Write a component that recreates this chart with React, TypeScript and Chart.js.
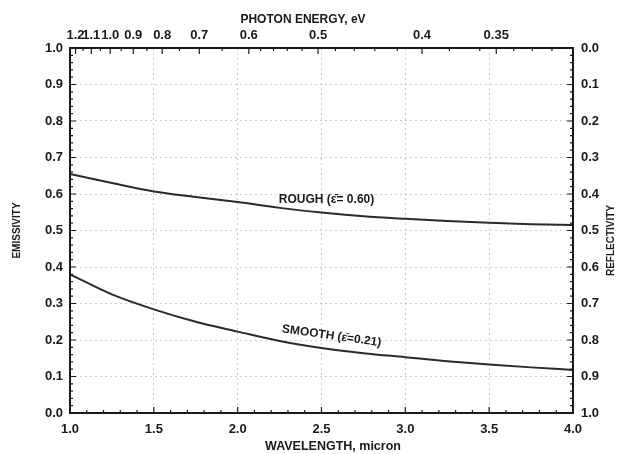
import React, { useEffect, useRef } from "react";
import Chart from "chart.js/auto";

// ---- data ----
const wavelengths = [1.0, 1.25, 1.5, 1.75, 2.0, 2.25, 2.5, 2.75, 3.0, 3.25, 3.5, 3.75, 4.0];
const roughEmissivity = [0.655, 0.630, 0.607, 0.592, 0.578, 0.562, 0.549, 0.539, 0.532, 0.526, 0.521, 0.517, 0.515];
const smoothEmissivity = [0.380, 0.325, 0.284, 0.250, 0.223, 0.197, 0.178, 0.164, 0.153, 0.142, 0.133, 0.125, 0.118];

const photonEnergyTicks = [1.2, 1.1, 1.0, 0.9, 0.8, 0.7, 0.6, 0.5, 0.4, 0.35];
const photonEnergyLabels = ["1.2", "1.1", "1.0", "0.9", "0.8", "0.7", "0.6", "0.5", "0.4", "0.35"];
const photonEnergyMinor = [1.15, 1.05, 0.95, 0.85, 0.75, 0.65, 0.58, 0.56, 0.54, 0.52, 0.48, 0.46, 0.44, 0.42, 0.38, 0.36, 0.34, 0.33, 0.32];
const HC = 1.2398; // eV·µm

const roughLabel = "ROUGH (\u03B5\u0304= 0.60)";
const smoothLabel = "SMOOTH (\u03B5\u0304=0.21)";

const FONT = "'Liberation Sans', Arial, Helvetica, sans-serif";
const INK = "#1a1a1a";

const framePlugin = {
  id: "framePlugin",
  afterDraw(chart: any) {
    const { ctx, chartArea: a, scales } = chart;
    const x = scales.x, y = scales.y;
    ctx.save();
    ctx.strokeStyle = INK;
    // ticks
    ctx.lineWidth = 1.2;
    const vTick = (px: number, len: number) => {
      ctx.beginPath();
      ctx.moveTo(px, a.bottom); ctx.lineTo(px, a.bottom - len);
      ctx.stroke();
    };
    for (let i = 0; i <= 30; i++) {
      const v = 1 + i * 0.1;
      vTick(x.getPixelForValue(v), i % 5 === 0 ? 6 : 3);
    }
    const tTick = (px: number, len: number) => {
      ctx.beginPath();
      ctx.moveTo(px, a.top); ctx.lineTo(px, a.top + len);
      ctx.stroke();
    };
    photonEnergyTicks.forEach((e) => tTick(x.getPixelForValue(HC / e), 6));
    photonEnergyMinor.forEach((e) => tTick(x.getPixelForValue(HC / e), 3));
    for (let i = 0; i <= 50; i++) {
      const v = i * 0.02;
      const py = y.getPixelForValue(v);
      const len = i % 5 === 0 ? 6 : 3;
      ctx.beginPath();
      ctx.moveTo(a.left, py); ctx.lineTo(a.left + len, py);
      ctx.moveTo(a.right, py); ctx.lineTo(a.right - len, py);
      ctx.stroke();
    }
    // frame
    ctx.lineWidth = 2;
    ctx.strokeRect(a.left, a.top, a.right - a.left, a.bottom - a.top);

    // axis titles
    ctx.fillStyle = INK;
    ctx.textAlign = "center";
    ctx.textBaseline = "middle";
    ctx.font = `bold 12px ${FONT}`;
    ctx.fillText("PHOTON ENERGY, eV", 303, 20);
    ctx.font = `bold 12.5px ${FONT}`;
    ctx.fillText("WAVELENGTH, micron", 333, 447);
    ctx.font = `bold 10px ${FONT}`;
    ctx.save();
    ctx.translate(17, (a.top + a.bottom) / 2);
    ctx.rotate(-Math.PI / 2);
    ctx.fillText("EMISSIVITY", 0, 0);
    ctx.restore();
    ctx.save();
    ctx.translate(611, (a.top + a.bottom) / 2 + 10);
    ctx.rotate(-Math.PI / 2);
    ctx.fillText("REFLECTIVITY", 0, 0);
    ctx.restore();

    // curve labels
    ctx.font = `bold 12px ${FONT}`;
    ctx.fillText(roughLabel, x.getPixelForValue(2.53), y.getPixelForValue(0.584));
    ctx.save();
    ctx.translate(x.getPixelForValue(2.56), y.getPixelForValue(0.211));
    ctx.rotate((8 * Math.PI) / 180);
    ctx.fillText(smoothLabel, 0, 0);
    ctx.restore();
    ctx.restore();
  },
};

export default function App() {
  const ref = useRef<HTMLCanvasElement | null>(null);
  useEffect(() => {
    if (!ref.current) return;
    const tickFont = { family: FONT, size: 13, weight: "bold" as const };
    const chart = new Chart(ref.current, {
      type: "line",
      data: {
        datasets: [
          {
            label: "Rough",
            data: wavelengths.map((w, i) => ({ x: w, y: roughEmissivity[i] })),
            borderColor: "#2a2a2a",
            borderWidth: 2,
            pointRadius: 0,
            tension: 0.4,
            cubicInterpolationMode: "monotone",
            xAxisID: "x",
            yAxisID: "y",
          },
          {
            label: "Smooth",
            data: wavelengths.map((w, i) => ({ x: w, y: smoothEmissivity[i] })),
            borderColor: "#2a2a2a",
            borderWidth: 2,
            pointRadius: 0,
            tension: 0.4,
            cubicInterpolationMode: "monotone",
            xAxisID: "x",
            yAxisID: "y",
          },
        ],
      },
      options: {
        responsive: false,
        animation: false,
        devicePixelRatio: 1,
        layout: { padding: 0 },
        plugins: { legend: { display: false }, tooltip: { enabled: false } },
        scales: {
          x: {
            type: "linear",
            position: "bottom",
            min: 1,
            max: 4,
            ticks: {
              stepSize: 0.5,
              autoSkip: false,
              maxRotation: 0,
              padding: 9,
              color: INK,
              font: tickFont,
              callback: (v: any) => Number(v).toFixed(1),
            },
            grid: { color: "rgba(0,0,0,0.2)", lineWidth: 1, drawTicks: false },
            border: { display: false, dash: [2, 3] },
            afterFit: (s: any) => { s.height = 41; },
          },
          xTop: {
            type: "linear",
            position: "top",
            min: 1,
            max: 4,
            afterBuildTicks: (s: any) => {
              s.ticks = photonEnergyTicks.map((e) => ({ value: HC / e }));
            },
            ticks: {
              autoSkip: false,
              maxRotation: 0,
              padding: 5,
              color: INK,
              font: tickFont,
              callback: (_v: any, i: number) => photonEnergyLabels[i],
            },
            grid: { display: false, drawTicks: false },
            border: { display: false },
            afterFit: (s: any) => { s.height = 48; },
          },
          y: {
            type: "linear",
            position: "left",
            min: 0,
            max: 1,
            ticks: {
              stepSize: 0.1,
              padding: 7,
              color: INK,
              font: tickFont,
              callback: (v: any) => Number(v).toFixed(1),
            },
            grid: { color: "rgba(0,0,0,0.2)", lineWidth: 1, drawTicks: false },
            border: { display: false, dash: [2, 3] },
            afterFit: (s: any) => { s.width = 70; },
          },
          yRight: {
            type: "linear",
            position: "right",
            min: 0,
            max: 1,
            reverse: true,
            ticks: {
              stepSize: 0.1,
              padding: 8,
              color: INK,
              font: tickFont,
              callback: (v: any) => Number(v).toFixed(1),
            },
            grid: { display: false, drawTicks: false },
            border: { display: false },
            afterFit: (s: any) => { s.width = 44; },
          },
        },
      },
      plugins: [framePlugin],
    } as any);
    return () => chart.destroy();
  }, []);
  return (
    <div style={{ position: "fixed", left: 0, top: 0, width: 617, height: 454, background: "#fff" }}>
      <canvas ref={ref} width={617} height={454} style={{ display: "block" }} />
    </div>
  );
}
